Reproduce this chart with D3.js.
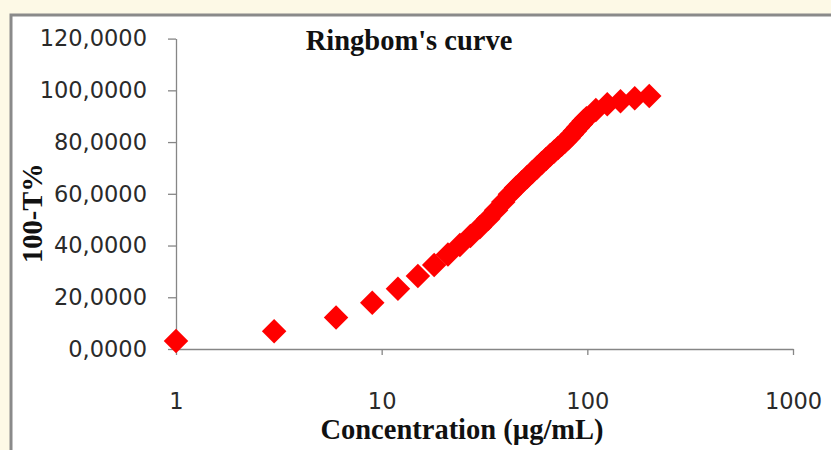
<!DOCTYPE html>
<html>
<head>
<meta charset="utf-8">
<script src="https://cdn.jsdelivr.net/npm/d3@7"></script>
<style>
  body { margin: 0; background: #fdf9e6; }
  svg { display: block; }
</style>
</head>
<body>
<div id="chart"></div>
<script>
// concentration (ug/mL) and 100-T%
var conc = [1, 3, 6, 9, 12, 15, 18, 21, 24, 27, 30, 33, 36, 39, 42, 45, 48, 51, 54, 57,
  60, 63, 66, 69, 72, 75, 78, 81, 84, 87, 90, 93, 96, 99, 110, 125, 145, 170, 200];
var absorb = [3.1, 6.9, 12.2, 17.9, 23.3, 28.2, 32.5, 36.5, 40.2, 43.7, 47.1, 50.4, 53.6, 56.8, 59.8, 62.3, 64.5, 66.5, 68.4, 70.2,
  71.9, 73.5, 75.0, 76.4, 77.7, 79.0, 80.2, 81.5, 82.9, 84.3, 85.6, 86.9, 88.1, 89.2, 92.4, 94.6, 95.8, 96.9, 97.8];
var yTicks = [0, 20, 40, 60, 80, 100, 120];
var xTicks = [1, 10, 100, 1000];

var width = 831, height = 450;

var svg = d3.select("#chart").append("svg")
  .attr("width", width)
  .attr("height", height);

// page background + white chart area
svg.append("rect")
  .attr("width", width).attr("height", height)
  .attr("fill", "#fdf9e6");
svg.append("rect")
  .attr("x", 11).attr("y", 15)
  .attr("width", width + 20).attr("height", height + 20)
  .attr("fill", "#fff")
  .attr("stroke", "#8a8a8a")
  .attr("stroke-width", 3);

var x = d3.scaleLog().domain([1, 1000]).range([176, 793]);
var y = d3.scaleLinear().domain([0, 120]).range([349, 38.6]);

var fmt = function(d) { return d3.format(".4f")(d).replace(".", ","); };

svg.append("g")
  .attr("transform", "translate(176,0)")
  .call(d3.axisLeft(y).tickValues(yTicks).tickSize(8).tickSizeOuter(0).tickPadding(21).tickFormat(fmt));

svg.append("g")
  .attr("transform", "translate(0,349)")
  .call(d3.axisBottom(x).tickValues(xTicks).tickSize(6).tickSizeOuter(0).tickPadding(38).tickFormat(d3.format("d")));

svg.selectAll(".domain, .tick line")
  .attr("stroke", "#868686")
  .attr("stroke-width", 1.3);
svg.selectAll(".tick text")
  .attr("font-family", "DejaVu Sans")
  .attr("font-size", 22.5)
  .attr("fill", "#2a2a2a");

// markers
svg.append("g").selectAll("path")
  .data(conc)
  .enter().append("path")
  .attr("d", d3.symbol(d3.symbolSquare, 300))
  .attr("transform", function(d, i) {
    return "translate(" + x(d) + "," + y(absorb[i]) + ") rotate(45)";
  })
  .attr("fill", "#ff0000");

// titles
svg.append("text")
  .attr("x", 409).attr("y", 50)
  .attr("text-anchor", "middle")
  .attr("font-family", "Liberation Serif")
  .attr("font-weight", "bold")
  .attr("font-size", 28.5)
  .attr("fill", "#111")
  .text("Ringbom's curve");

svg.append("text")
  .attr("x", 462).attr("y", 439)
  .attr("text-anchor", "middle")
  .attr("font-family", "Liberation Serif")
  .attr("font-weight", "bold")
  .attr("font-size", 28.5)
  .attr("fill", "#111")
  .text("Concentration (\u00b5g/mL)");

svg.append("text")
  .attr("transform", "translate(42,213) rotate(-90)")
  .attr("text-anchor", "middle")
  .attr("font-family", "Liberation Serif")
  .attr("font-weight", "bold")
  .attr("font-size", 28.5)
  .attr("fill", "#111")
  .text("100-T%");
</script>
</body>
</html>
